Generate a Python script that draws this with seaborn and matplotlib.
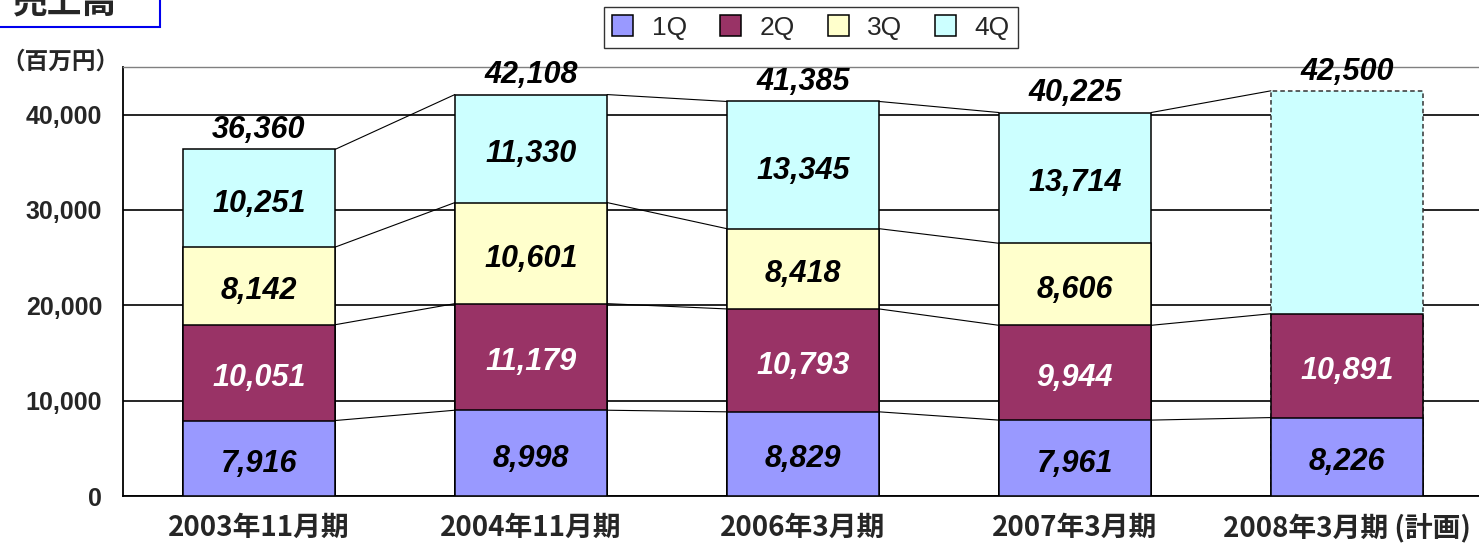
import numpy as np
import seaborn as sns
import matplotlib.pyplot as plt
from matplotlib.patches import Rectangle

sns.set_style('white')
plt.rcParams['font.family'] = ['Liberation Sans', 'Noto Sans CJK JP', 'DejaVu Sans']

# data (百万円)
periods = ['2003年11月期', '2004年11月期', '2006年3月期', '2007年3月期', '2008年3月期 (計画)']
q1 = [7916, 8998, 8829, 7961, 8226]
q2 = [10051, 11179, 10793, 9944, 10891]
q3 = [8142, 10601, 8418, 8606, np.nan]
q4 = [10251, 11330, 13345, 13714, np.nan]
totals = [36360, 42108, 41385, 40225, 42500]
quarters = ['1Q', '2Q', '3Q', '4Q']
colors = ['#9999FF', '#993366', '#FFFFCC', '#CCFFFF']
label_colors = ['black', 'white', 'black', 'black']

series = [np.array(q1, float), np.array(q2, float), np.array(q3, float), np.array(q4, float)]
cum1 = series[0]
cum2 = cum1 + series[1]
cum3 = cum2 + series[2]
tops = [cum1, cum2, cum3, np.array(totals, float)]

fig = plt.figure(figsize=(14.79, 5.43), dpi=100)
ax = fig.add_axes([123 / 1479, 47 / 543, 1360 / 1479, 429 / 543])

W = 0.56
# draw tallest first, then overlay lower cumulative levels
for k in range(3, -1, -1):
    sns.barplot(x=periods, y=tops[k], color=colors[k], saturation=1, width=W,
                edgecolor='black', linewidth=1.1, errorbar=None, ax=ax, zorder=3)
    if k == 3:
        plan = ax.patches[-1]
        plan.set_linestyle((0, (3, 2)))
        plan.set_edgecolor('#333333')

# connector lines between bars
n = len(periods)
for k in range(4):
    lvl = tops[k]
    for i in range(n - 1):
        a, b = lvl[i], lvl[i + 1]
        if np.isnan(a) or np.isnan(b):
            continue
        ax.plot([i + W / 2, i + 1 - W / 2], [a, b], color='black', lw=0.8, zorder=2)

# segment labels
bottoms = [np.zeros(n), cum1, cum2, cum3]
for k in range(4):
    for i in range(n):
        v = series[k][i]
        if np.isnan(v):
            continue
        ax.annotate(f'{int(v):,}', (i, bottoms[k][i] + v / 2), xytext=(0, -4),
                    textcoords='offset points', ha='center', va='center',
                    fontsize=22, fontweight='bold', fontstyle='italic',
                    color=label_colors[k], zorder=5)
for i in range(n):
    ax.annotate(f'{totals[i]:,}', (i, totals[i]), xytext=(0, 3),
                textcoords='offset points', ha='center', va='bottom',
                fontsize=22, fontweight='bold', fontstyle='italic',
                color='black', zorder=5)

ax.set_xlim(-0.5, n - 0.5)
ax.set_ylim(0, 45000)
ax.set_yticks([0, 10000, 20000, 30000, 40000])
ax.set_yticklabels([f'{t:,}' for t in [0, 10000, 20000, 30000, 40000]])
ax.yaxis.grid(True, color='black', lw=1.2)
ax.set_axisbelow(True)
ax.tick_params(axis='y', length=0, pad=15, labelsize=18)
for lab in ax.get_yticklabels():
    lab.set_fontweight('bold')
ax.tick_params(axis='x', length=0, pad=13)
for lab in ax.get_xticklabels():
    lab.set_fontweight('bold')
    lab.set_fontsize(20)
    lab.set_family(['Noto Sans CJK JP'])
ax.set_xticks(np.arange(n - 1) + 0.5, minor=True)
ax.tick_params(axis='x', which='minor', direction='in', length=5, color='black', width=0.8)
ax.set_xlabel('')
ax.set_ylabel('')
for side in ['left', 'bottom']:
    ax.spines[side].set_color('black')
    ax.spines[side].set_linewidth(1.3)
for side in ['top', 'right']:
    ax.spines[side].set_color('#808080')
    ax.spines[side].set_linewidth(1.0)

# legend
handles = [Rectangle((0, 0), 1, 1, facecolor=c, edgecolor='black', lw=1.1) for c in colors]
leg = fig.legend(handles, quarters, loc='center', bbox_to_anchor=(811 / 1479, 1 - 27.5 / 543),
                 ncol=4, fontsize=19, frameon=True, fancybox=False, edgecolor='black',
                 handlelength=0.8, handleheight=0.8, handletextpad=0.7, columnspacing=1.25,
                 borderpad=0.3)
leg.get_frame().set_linewidth(1.0)

# title box and unit
fig.patches.append(Rectangle((-0.01, 1 - 27 / 543), 0.01 + 160 / 1479, 0.1,
                             transform=fig.transFigure, facecolor='white',
                             edgecolor='#0000EE', lw=1.5))
fig.text(65 / 1479, 1 - 3 / 543, '売上高', ha='center', va='center', fontsize=25,
         fontweight='bold', family=['Noto Sans CJK JP'])
fig.text(60 / 1479, 1 - 62 / 543, '（百万円）', ha='center', va='center', fontsize=17,
         fontweight='bold', family=['Noto Sans CJK JP'])

fig.savefig('out.png', dpi=100)
